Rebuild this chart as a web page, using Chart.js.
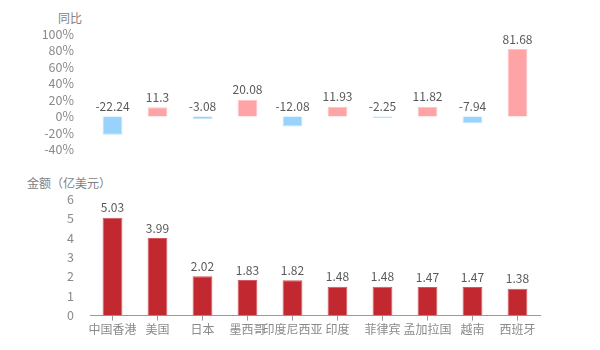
<!DOCTYPE html>
<html>
<head>
<meta charset="utf-8">
<script src="https://cdn.jsdelivr.net/npm/chart.js@4.4.1/dist/chart.umd.min.js"></script>
<style>
  body { margin: 0; background: #fff; }
  #wrap { position: relative; width: 600px; height: 350px; font-family: "Noto Sans CJK SC", sans-serif; }
  canvas { position: absolute; left: 0; }
  .name { position: absolute; font-size: 12px; color: #7f7f7f; line-height: 14px; white-space: nowrap; }
</style>
</head>
<body>
<div id="wrap">
  <div class="name" id="t1" style="left:58px; top:11px;">同比</div>
  <div class="name" id="t2" style="left:27px; top:176px;">金额（亿美元）</div>
  <canvas id="top" width="600" height="165" style="top:0;"></canvas>
  <canvas id="bottom" width="600" height="180" style="top:170px;"></canvas>
</div>
<script>
const categories = ["中国香港", "美国", "日本", "墨西哥", "印度尼西亚", "印度", "菲律宾", "孟加拉国", "越南", "西班牙"];
const yoyValues = [-22.24, 11.3, -3.08, 20.08, -12.08, 11.93, -2.25, 11.82, -7.94, 81.68];
const amountValues = [5.03, 3.99, 2.02, 1.83, 1.82, 1.48, 1.48, 1.47, 1.47, 1.38];

const FONT = '"Noto Sans CJK SC", sans-serif';
const tickGrey = "#8a8a8a";

// draws the number above each bar
const valueLabels = {
    id: "valueLabels",
    afterDatasetsDraw(chart, args, opts) {
        const ctx = chart.ctx;
        const meta = chart.getDatasetMeta(0);
        const data = chart.data.datasets[0].data;
        ctx.save();
        ctx.font = "12px " + FONT;
        ctx.fillStyle = opts.color || "#595959";
        ctx.textAlign = "center";
        ctx.textBaseline = "bottom";
        meta.data.forEach((bar, i) => {
            const top = Math.min(bar.y, bar.base);
            ctx.fillText(String(data[i]), bar.x, top - 4);
        });
        ctx.restore();
    }
};

function yAxis(min, max, step, fmt) {
    return {
        min: min,
        max: max,
        afterFit: s => { s.width = 90; },
        grid: { display: false },
        border: { display: false },
        ticks: {
            stepSize: step,
            autoSkip: false,
            padding: 8,
            color: tickGrey,
            font: { family: FONT, size: 12.5 },
            callback: fmt
        }
    };
}

new Chart(document.getElementById("top"), {
    type: "bar",
    data: {
        labels: categories,
        datasets: [{
            data: yoyValues,
            backgroundColor: yoyValues.map(v => v >= 0 ? "#ffa4a6" : "#99d3fb"),
            borderColor: yoyValues.map(v => v >= 0 ? "#ffc4c6" : "#c0e4fd"),
            borderWidth: 1,
            categoryPercentage: 1,
            barPercentage: 0.44
        }]
    },
    options: {
        responsive: false,
        animation: false,
        layout: { padding: { left: 0, right: 60, top: 34, bottom: 6 } },
        plugins: { legend: { display: false }, tooltip: { enabled: false }, valueLabels: { color: "#595959" } },
        scales: {
            x: { display: false },
            y: yAxis(-40, 100, 20, v => v + "%")
        }
    },
    plugins: [valueLabels]
});

new Chart(document.getElementById("bottom"), {
    type: "bar",
    data: {
        labels: categories,
        datasets: [{
            data: amountValues,
            backgroundColor: "#c1282f",
            borderColor: "#d05a60",
            borderWidth: 1,
            categoryPercentage: 1,
            barPercentage: 0.44
        }]
    },
    options: {
        responsive: false,
        animation: false,
        layout: { padding: { left: 0, right: 60, top: 29, bottom: 11 } },
        plugins: { legend: { display: false }, tooltip: { enabled: false }, valueLabels: { color: "#595959" } },
        scales: {
            x: {
                grid: { offset: false, drawOnChartArea: false, tickLength: 5, color: "#9a9a9a" },
                border: { display: true, color: "#9a9a9a" },
                ticks: {
                    color: tickGrey,
                    padding: 2,
                    maxRotation: 0,
                    autoSkip: false,
                    font: { family: FONT, size: 12 }
                }
            },
            y: yAxis(0, 6, 1, v => v)
        }
    },
    plugins: [valueLabels]
});
</script>
</body>
</html>
